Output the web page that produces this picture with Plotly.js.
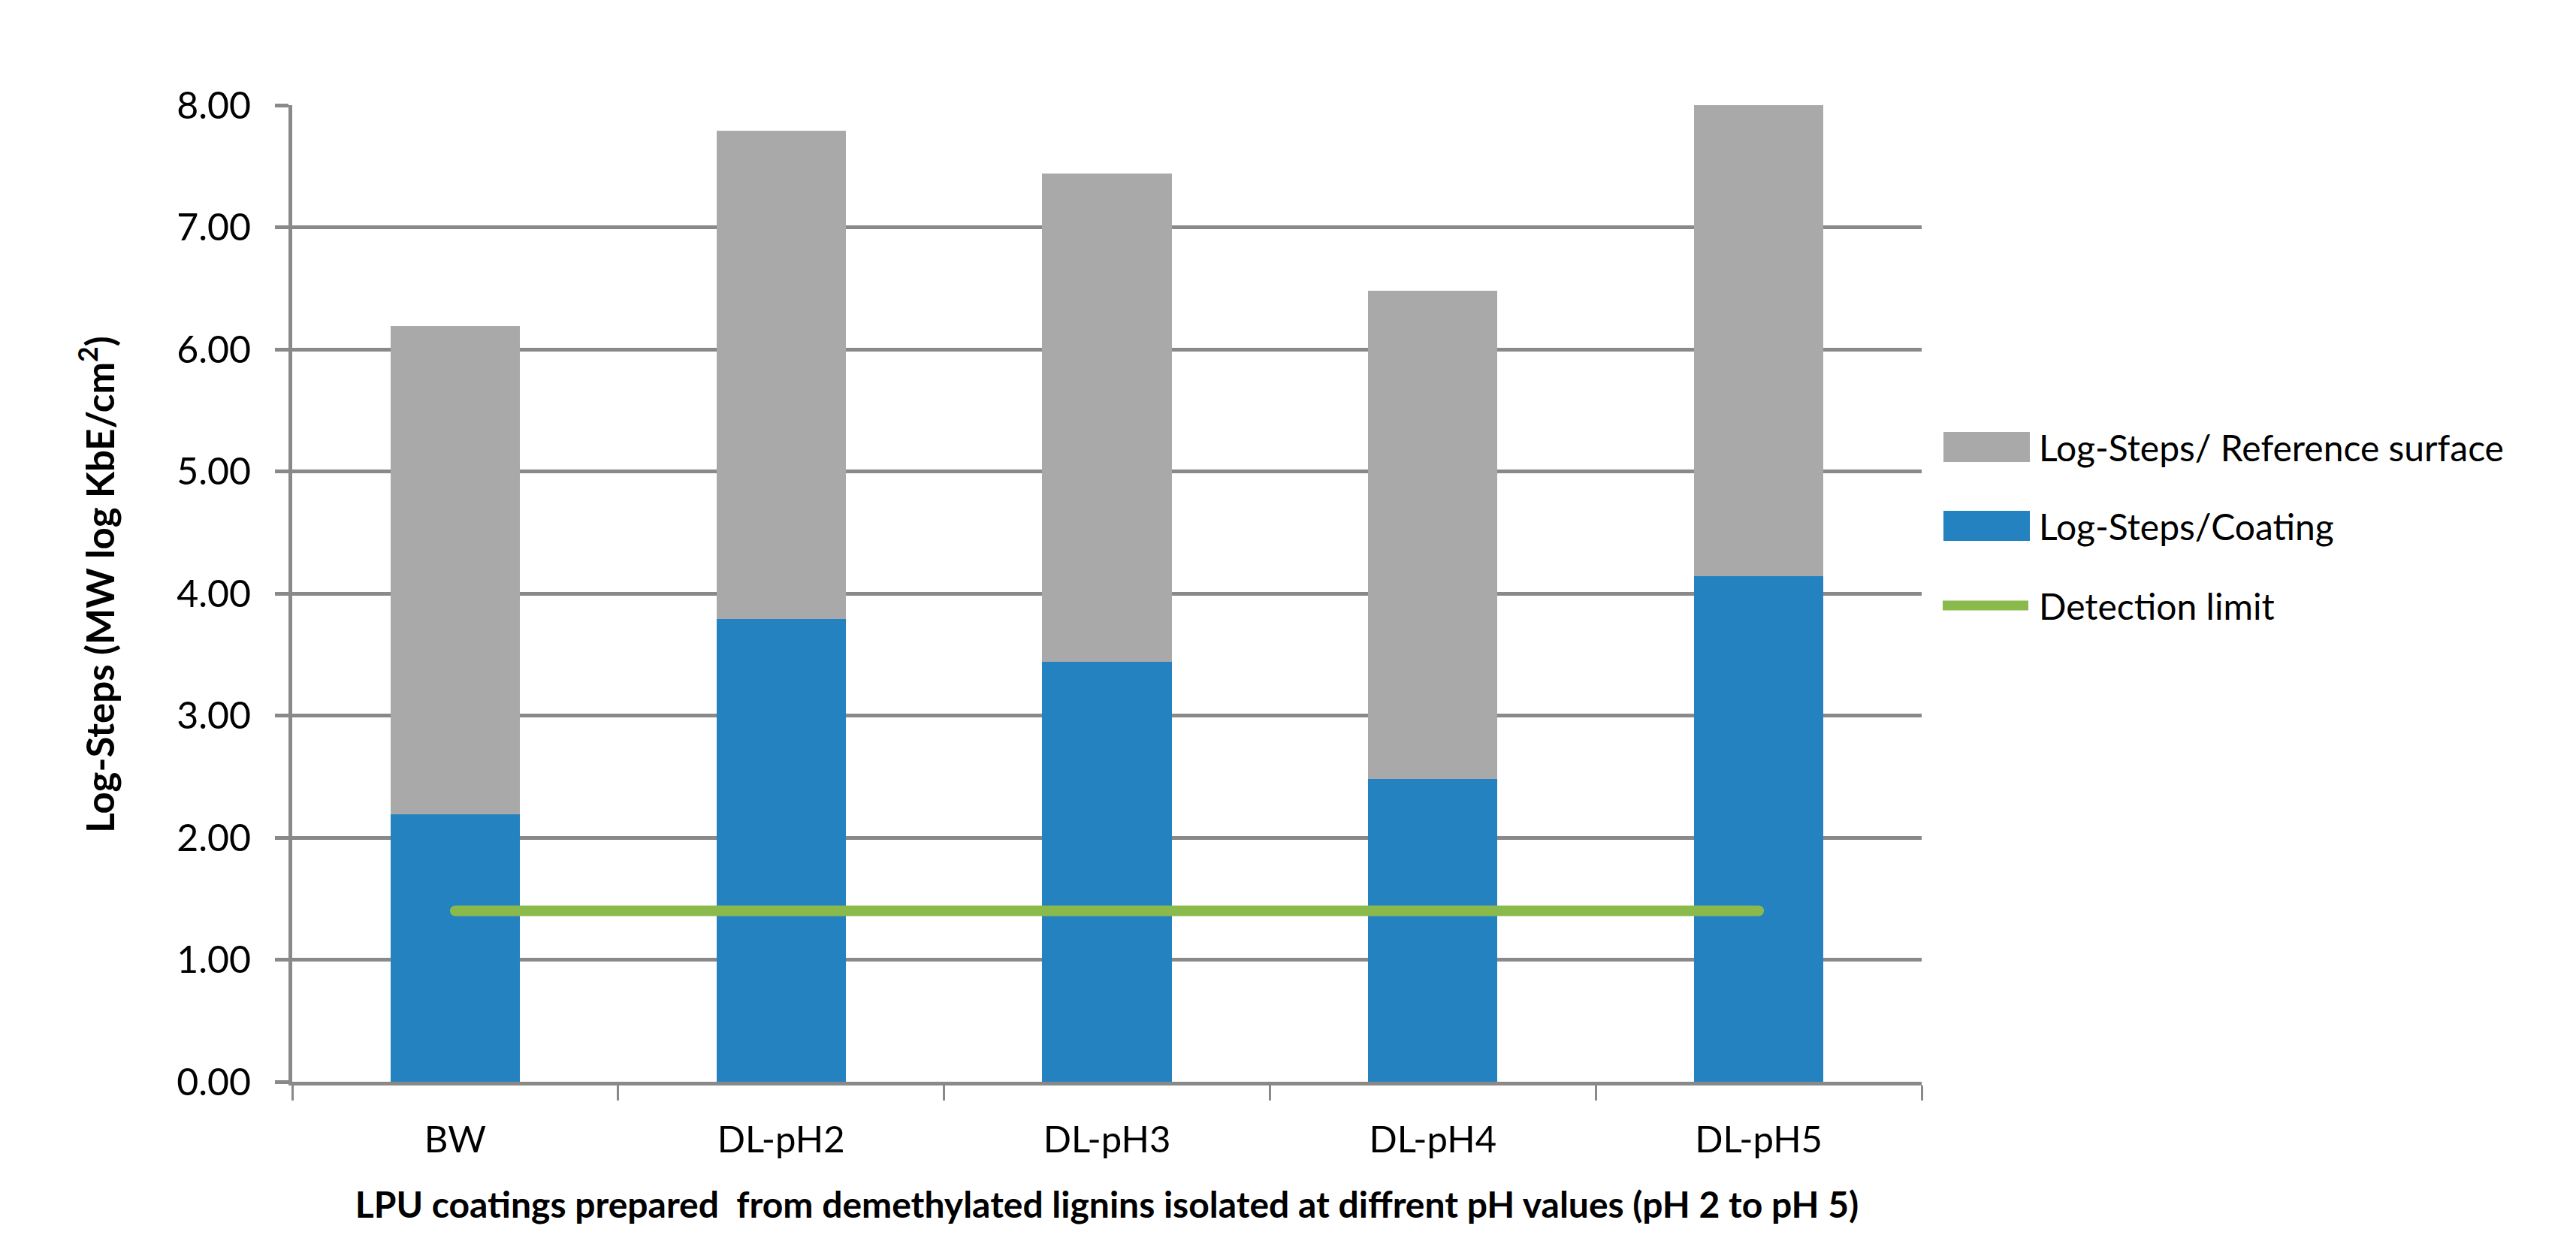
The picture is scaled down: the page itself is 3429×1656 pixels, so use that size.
<!DOCTYPE html>
<html>
<head>
<meta charset="utf-8">
<script src="https://cdn.plot.ly/plotly-3.0.1.min.js"></script>
<style>
  html, body { margin: 0; padding: 0; background: #ffffff; }
  #chart { width: 3429px; height: 1656px; }
  .scatterlayer .js-line { stroke-linecap: round !important; }
</style>
</head>
<body>
<div id="chart"></div>
<script>
// ---- data ----
const categories = ['BW', 'DL-pH2', 'DL-pH3', 'DL-pH4', 'DL-pH5'];
const coatingLogSteps = [2.19, 3.79, 3.44, 2.48, 4.14];
const referenceLogSteps = [4.0, 4.0, 4.0, 4.0, 4.0];
const detectionLimit = [1.4, 1.4, 1.4, 1.4, 1.4];
const seriesNames = ['Log-Steps/ Reference surface', 'Log-Steps/Coating', 'Detection limit'];
const yTitle = 'Log-Steps (MW log KbE/cm<sup>2</sup>)';
const xTitle = 'LPU coatings prepared\u00a0 from demethylated lignins isolated at diffrent pH values (pH 2 to pH 5)';

// ---- style ----
const W = 3429, H = 1656;
const M = { l: 389, r: 871, t: 140, b: 216 };
const plotW = W - M.l - M.r, plotH = H - M.t - M.b;
const px2x = px => (px - M.l) / plotW;
const py2y = py => (H - M.b - py) / plotH;
const FONT = 'Lato, "Open Sans", sans-serif';
const GRID = '#898989';
const GRAY = '#a9a9a9', BLUE = '#2482c0', GREEN = '#8bba4c';

const traces = [
  { type: 'bar', name: seriesNames[1], x: categories, y: coatingLogSteps,
    marker: { color: BLUE, line: { width: 0 } }, showlegend: false, hoverinfo: 'skip' },
  { type: 'bar', name: seriesNames[0], x: categories, y: referenceLogSteps,
    marker: { color: GRAY, line: { width: 0 } }, showlegend: false, hoverinfo: 'skip' },
  { type: 'scatter', mode: 'lines', name: seriesNames[2], x: categories, y: detectionLimit,
    line: { color: GREEN, width: 14 }, showlegend: false, hoverinfo: 'skip', cliponaxis: false }
];

// custom legend (large swatches as in the reference)
const legendRows = [
  { label: seriesNames[0], kind: 'rect', color: GRAY, cy: 595 },
  { label: seriesNames[1], kind: 'rect', color: BLUE, cy: 700 },
  { label: seriesNames[2], kind: 'line', color: GREEN, cy: 806 }
];
const shapes = [], annotations = [];
legendRows.forEach(r => {
  if (r.kind === 'rect') {
    shapes.push({ type: 'rect', xref: 'paper', yref: 'paper',
      x0: px2x(2587), x1: px2x(2702), y0: py2y(r.cy - 20), y1: py2y(r.cy + 20),
      fillcolor: r.color, line: { width: 0 } });
  } else {
    shapes.push({ type: 'line', xref: 'paper', yref: 'paper',
      x0: px2x(2586), x1: px2x(2700), y0: py2y(r.cy), y1: py2y(r.cy),
      line: { color: r.color, width: 13 } });
  }
  annotations.push({ xref: 'paper', yref: 'paper', x: px2x(2712), y: py2y(r.cy),
    xanchor: 'left', yanchor: 'middle', showarrow: false, text: r.label,
    font: { family: FONT, size: 48, color: '#000000' } });
});

const layout = {
  width: W, height: H,
  margin: M,
  paper_bgcolor: '#ffffff', plot_bgcolor: '#ffffff',
  barmode: 'stack', bargap: 0.603,
  showlegend: false,
  font: { family: FONT, size: 49, color: '#000000' },
  xaxis: {
    type: 'category', tickson: 'boundaries',
    showgrid: false, zeroline: false,
    showline: true, linecolor: GRID, linewidth: 5,
    ticks: 'outside', ticklen: 20, tickwidth: 3, tickcolor: GRID,
    tickfont: { family: FONT, size: 49, color: '#000000' },
    ticklabelstandoff: 30,
    title: { text: xTitle, standoff: 46,
      font: { family: FONT, size: 48, color: '#000000', weight: 700 } }
  },
  yaxis: {
    range: [0, 8], dtick: 1, tick0: 0, tickformat: '.2f',
    showgrid: true, gridcolor: GRID, gridwidth: 5,
    zeroline: false,
    showline: true, linecolor: GRID, linewidth: 5,
    ticks: 'outside', ticklen: 18, tickwidth: 5, tickcolor: GRID,
    tickfont: { family: FONT, size: 50, color: '#000000' },
    ticklabelstandoff: 22,
    title: { text: yTitle, standoff: 68,
      font: { family: FONT, size: 51, color: '#000000', weight: 700 } }
  },
  shapes: shapes,
  annotations: annotations
};

Plotly.newPlot('chart', traces, layout, { displayModeBar: false, staticPlot: true })
  .then(gd => {
    // the reference's y-axis title sits slightly above the plot-area centre
    const g = gd.querySelector('.g-ytitle');
    if (g) g.setAttribute('transform', 'translate(0,-12)');
  });
</script>
</body>
</html>
